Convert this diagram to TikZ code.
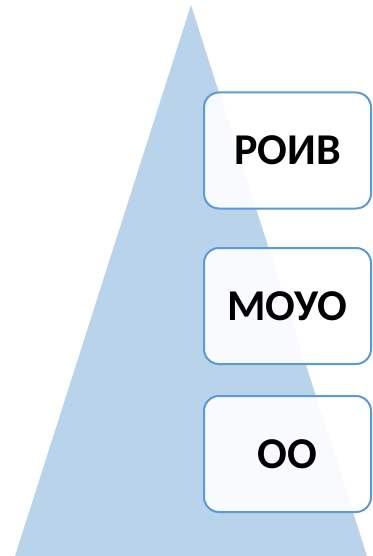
\documentclass[tikz,border=0pt]{standalone}
\usepackage{fontspec}
\setmainfont{Carlito}
\definecolor{pyramidblue}{RGB}{185,211,235}
\definecolor{boxline}{RGB}{91,155,213}
\tikzset{
  levelbox/.style={draw=boxline, line width=2pt, fill=white, fill opacity=0.9,
    text opacity=1, rounded corners=15pt, minimum width=167pt, minimum height=116pt,
    inner sep=0pt, font=\bfseries\fontsize{44}{48}\selectfont}
}
\begin{document}
\begin{tikzpicture}[x=1pt,y=1pt]
\useasboundingbox (0.000000,0.000000) rectangle (372.000000,-556.000000);
% Drawing pyramid
\coordinate (apex) at (191.000000,-5.000000);
\coordinate (baseleft) at (15.000000,-556.000000);
\coordinate (baseright) at (367.000000,-556.000000);
\fill[pyramidblue] (apex) -- (baseleft) -- (baseright) -- cycle;
% Done with pyramid; drawing level boxes
\node[levelbox] (roiv) at (287.500000,-150.500000) {РОИВ};
\node[levelbox] (moyo) at (287.500000,-306.000000) {МОУО};
\node[levelbox] (oo) at (287.500000,-454.000000) {ОО};
% Done with boxes
\end{tikzpicture}
\end{document}
